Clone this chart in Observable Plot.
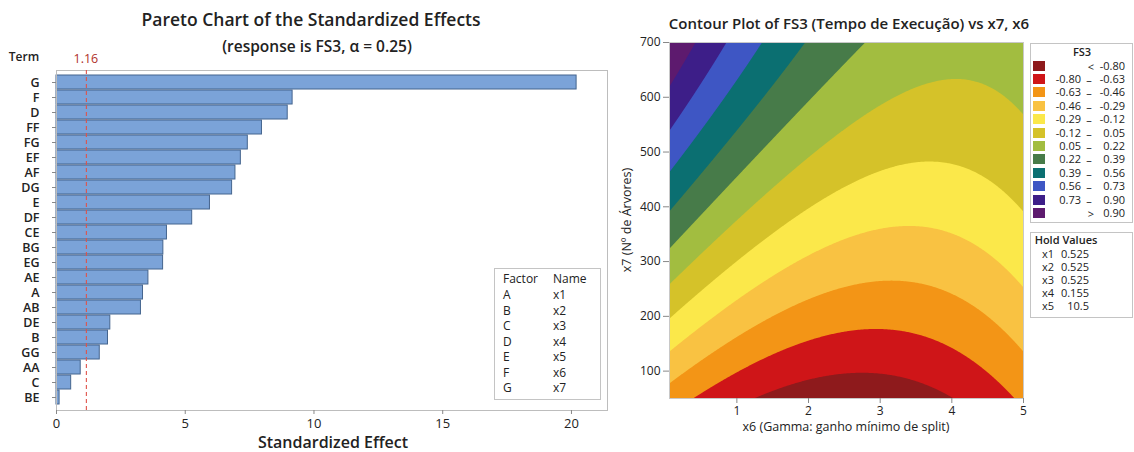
<!DOCTYPE html>
<html><head><meta charset="utf-8">
<script src="https://cdn.jsdelivr.net/npm/d3@7"></script>
<script src="https://cdn.jsdelivr.net/npm/@observablehq/plot@0.6"></script>
<style>
body{margin:0;background:#fff;font-family:"Open Sans",sans-serif;color:#222;}
#root{position:relative;width:1134px;height:452px;overflow:hidden;background:#fff;}
.t{position:absolute;white-space:nowrap;line-height:1;}
.c{transform:translate(-50%,-50%);}
.box{position:absolute;border:1px solid #c4c4c4;background:#fff;box-sizing:border-box;}
svg{position:absolute;top:0;overflow:visible;}
</style></head><body><div id="root"></div>
<script>
// ---------- Pareto chart data ----------
const terms = ["G","F","D","FF","FG","EF","AF","DG","E","DF","CE","BG","EG","AE","A","AB","DE","B","GG","AA","C","BE"];
const effects = [20.2,9.17,8.98,7.98,7.43,7.16,6.95,6.82,5.96,5.27,4.29,4.15,4.14,3.57,3.36,3.28,2.09,2.00,1.68,0.94,0.57,0.12];
const criticalEffect = 1.16;
const effectTicks = [0,5,10,15,20];
const factorLetters = ["A","B","C","D","E","F","G"];
const factorNames = ["x1","x2","x3","x4","x5","x6","x7"];

// ---------- Contour plot data ----------
// quadratic response surface FS3 = b0 + b1*x6 + b2*x7 + b3*x6^2 + b4*x7^2 + b5*x6*x7 (coefficients)
const surfaceTerms = ["1","x6","x7","x6^2","x7^2","x6*x7"];
const surfaceCoefs = [-0.680,-0.2761,0.003124,0.055,-0.000000858,-0.0002684];
const fs3Breaks = [-0.80,-0.63,-0.46,-0.29,-0.12,0.05,0.22,0.39,0.56,0.73,0.90];
const fs3Labels = ["-0.80","-0.63","-0.46","-0.29","-0.12","0.05","0.22","0.39","0.56","0.73","0.90"];
const fs3Colors = ["#8e1a1c","#cf1518","#f39516","#f9c242","#fbe84a","#d5c229","#a2bd40","#477b49","#0b6f71","#3e56c4","#3d1e88","#5d1a6e"];
const x6Range = [0.06, 5];
const x7Range = [50, 700];
const x6Ticks = [1,2,3,4,5];
const x7Ticks = [100,200,300,400,500,600,700];
const holdNames = ["x1","x2","x3","x4","x5"];
const holdValues = ["0.525","0.525","0.525","0.155","10.5"];

const root = document.getElementById("root");
function txt(s, left, top, css, center) {
  const d = document.createElement("div");
  d.className = "t" + (center ? " c" : "");
  d.textContent = s;
  d.style.left = left + "px"; d.style.top = top + "px";
  if (css) d.style.cssText += css;
  root.appendChild(d);
  return d;
}
function box(l, t, w, h) {
  const d = document.createElement("div");
  d.className = "box";
  Object.assign(d.style, {left: l+"px", top: t+"px", width: w+"px", height: h+"px"});
  root.appendChild(d);
}

// ---------- Pareto ----------
const paretoRows = terms.map((t, i) => ({term: t, effect: effects[i]}));
const pareto = Plot.plot({
  width: 620, height: 452,
  marginLeft: 56, marginRight: 13, marginTop: 70, marginBottom: 42,
  style: {fontFamily: "Open Sans, sans-serif", background: "transparent", color: "#222"},
  x: {domain: [0, 21.4]},
  y: {domain: terms, paddingInner: 0.06, paddingOuter: 0.09},
  marks: [
    Plot.barX(paretoRows, {x: "effect", y: "term", fill: "#7ba3d8", stroke: "#45658e", strokeWidth: 1}),
    Plot.frame({stroke: "#bdbdbd"}),
    Plot.ruleX([criticalEffect], {stroke: "#e0524a", strokeDasharray: "4,3", strokeWidth: 1.1}),
    Plot.axisX({ticks: effectTicks, tickFormat: "d", tickSize: 4, tickPadding: 4, label: null, fontSize: 13, stroke: "#888", fill: "#222"}),
    Plot.axisY({tickSize: 4, tickPadding: 13, label: null, fontSize: 12.5, fontWeight: 600, stroke: "#888", fill: "#222"})
  ]
});
pareto.style.left = "0px";
root.appendChild(pareto);

txt("Pareto Chart of the Standardized Effects", 311, 20, "font-size:17.5px;font-weight:600;", true);
txt("(response is FS3, α = 0.25)", 317, 47, "font-size:15.5px;font-weight:600;", true);
txt("Term", 24, 57, "font-size:12px;font-weight:600;", true);
txt(String(criticalEffect), 56 + criticalEffect * 551 / 21.4, 59, "font-size:12.5px;color:#b0302a;", true);
txt("Standardized Effect", 333, 442, "font-size:16px;font-weight:600;", true);

// factor table
box(494, 268, 107, 132);
txt("Factor", 503, 273, "font-size:12px;");
txt("Name", 553, 273, "font-size:12px;");
factorLetters.forEach((f, i) => {
  txt(f, 503, 289 + i * 15.5, "font-size:12px;");
  txt(factorNames[i], 553, 289 + i * 15.5, "font-size:12px;");
});

// ---------- Contour ----------
const fs3 = (x, y) => {
  const c = surfaceCoefs;
  return c[0] + c[1]*x + c[2]*y + c[3]*x*x + c[4]*y*y + c[5]*x*y;
};
const contour = Plot.plot({
  width: 410, height: 452,
  marginLeft: 49, marginRight: 7, marginTop: 42, marginBottom: 54,
  style: {fontFamily: "Open Sans, sans-serif", background: "transparent", color: "#222"},
  x: {domain: x6Range},
  y: {domain: x7Range},
  color: {type: "threshold", domain: fs3Breaks, range: fs3Colors},
  marks: [
    Plot.contour({fill: fs3, x1: x6Range[0], x2: x6Range[1], y1: x7Range[0], y2: x7Range[1],
      thresholds: [-10, ...fs3Breaks], pixelSize: 1}),
    Plot.frame({stroke: "#c8c8c8"}),
    Plot.axisX({ticks: x6Ticks, tickFormat: "d", tickSize: 5, tickPadding: 3, label: null, fontSize: 12, stroke: "#888", fill: "#222"}),
    Plot.axisY({ticks: x7Ticks, tickFormat: "d", tickSize: 6, tickPadding: 3, label: null, fontSize: 12, stroke: "#888", fill: "#222"})
  ]
});
contour.style.left = "620px";
root.appendChild(contour);

txt("Contour Plot of FS3 (Tempo de Execução) vs x7, x6", 849, 23, "font-size:15px;font-weight:600;", true);
txt("x6 (Gamma: ganho mínimo de split)", 846, 427, "font-size:12.5px;", true);
txt("x7 (Nº de Árvores)", 627, 220, "font-size:12.5px;transform:translate(-50%,-50%) rotate(-90deg);", false);

// FS3 legend
box(1030, 43, 103, 180);
txt("FS3", 1082, 51, "font-size:11px;font-weight:600;", true);
fs3Colors.forEach((col, i) => {
  const y = 65.5 + i * 13.4;
  const sw = document.createElement("div");
  Object.assign(sw.style, {position: "absolute", left: "1033px", top: (y - 5) + "px", width: "12px", height: "10px", background: col});
  root.appendChild(sw);
  const R = (s, right) => txt(s, 0, y - 6, `font-size:11px;left:auto;right:${1134 - right}px;`);
  if (i === 0) { txt("<", 1091, y, "font-size:11px;", true); R(fs3Labels[0], 1125); }
  else if (i === fs3Colors.length - 1) { txt(">", 1091, y, "font-size:11px;", true); R(fs3Labels[fs3Labels.length - 1], 1125); }
  else { R(fs3Labels[i - 1], 1081); txt("–", 1089, y, "font-size:11px;", true); R(fs3Labels[i], 1125); }
});

// Hold values
box(1030, 232, 103, 86);
txt("Hold Values", 1066, 239, "font-size:11px;font-weight:600;", true);
holdNames.forEach((n, i) => {
  const y = 254 + i * 13;
  txt(n, 1042, y - 6, "font-size:11px;");
  txt(holdValues[i], 0, y - 6, "font-size:11px;left:auto;right:" + (1134 - 1089) + "px;");
});
</script></body></html>
